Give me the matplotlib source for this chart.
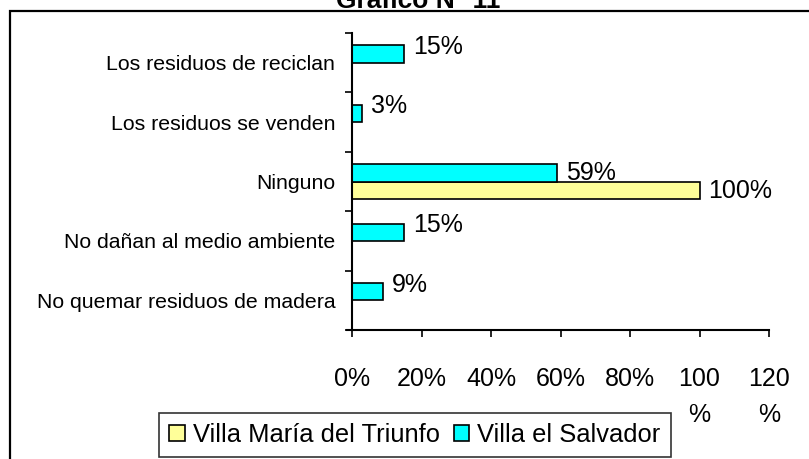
import matplotlib.pyplot as plt
from matplotlib.patches import Rectangle

categorias = ['Los residuos de reciclan', 'Los residuos se venden', 'Ninguno',
              'No dañan al medio ambiente', 'No quemar residuos de madera']
villa_salvador = [15, 3, 59, 15, 9]
villa_maria = [0, 0, 100, 0, 0]
xticks = [0, 20, 40, 60, 80, 100, 120]
xticklabels = ['0%', '20%', '40%', '60%', '80%', '100\n%', '120\n%']

plt.rcParams['font.family'] = ['Liberation Sans', 'DejaVu Sans']

fig = plt.figure(figsize=(8.09, 4.59), dpi=100)
ax = fig.add_axes([352/809, 1 - 330/459, (769 - 352)/809, (330 - 33)/459])

# borde del area del grafico (cortado a la derecha y abajo, como en el original)
fig.patches.append(Rectangle((10/809, -0.1), 1.2, 1 - 11/459 + 0.1, transform=fig.transFigure,
                             fill=False, edgecolor='black', linewidth=1.6, zorder=0))
fig.text(418/809, 1 - 8/459, 'Grafico N° 11', ha='center', va='baseline',
         fontsize=19, fontweight='bold')

n = len(categorias)
pos = [n - 1 - i for i in range(n)]
h = 0.29
b1 = ax.barh([p - h/2 for p in pos], villa_maria, height=h, color='#FFFF99',
             edgecolor='black', linewidth=1.2, label='Villa María del Triunfo')
b2 = ax.barh([p + h/2 for p in pos], villa_salvador, height=h, color='#00FFFF',
             edgecolor='black', linewidth=1.2, label='Villa el Salvador')

for p, v, w in zip(pos, villa_salvador, villa_maria):
    if v > 0:
        dy = 0.0 if w > 0 else 0.12
        ax.text(v + 2.5, p + h/2 + dy, f'{v}%', va='center', ha='left', fontsize=18)
for p, v in zip(pos, villa_maria):
    if v > 0:
        ax.text(v + 2.5, p - h/2 - 0.02, f'{v}%', va='center', ha='left', fontsize=18)

ax.set_xlim(0, 120)
ax.set_ylim(-0.5, n - 0.5)
ax.set_xticks(xticks)
ax.set_xticklabels(xticklabels, fontsize=18, linespacing=1.6)
ax.set_yticks(pos)
ax.set_yticklabels(categorias, fontsize=15.3)
ax.set_yticks([p - 0.5 for p in range(n + 1)], minor=True)
ax.tick_params(axis='y', which='major', length=0, pad=12)
ax.tick_params(axis='y', which='minor', length=5, width=1.2, direction='out')
ax.tick_params(axis='x', length=5, width=1.2, direction='out', pad=22)
for s in ['top', 'right']:
    ax.spines[s].set_visible(False)
ax.spines['left'].set_linewidth(1.5)
ax.spines['bottom'].set_linewidth(1.5)
ax.spines['bottom'].set_bounds(-1.5, 120)

leg = fig.legend(handles=[b1, b2], loc='upper left', bbox_to_anchor=(159/809, 1 - 413/459),
                 ncol=2, fontsize=18.4, frameon=True, fancybox=False, edgecolor='black',
                 handlelength=0.6, handleheight=0.6, handletextpad=0.32, columnspacing=0.55,
                 borderaxespad=0, borderpad=0.4)
leg.get_frame().set_linewidth(1.2)

fig.savefig('out.png', dpi=100)
